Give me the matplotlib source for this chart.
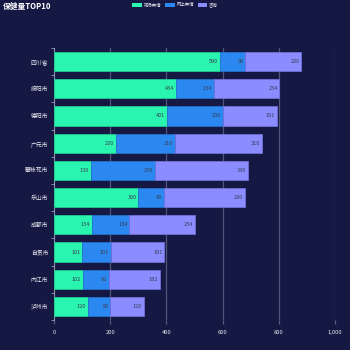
import matplotlib
matplotlib.use("Agg")
import matplotlib.pyplot as plt
from matplotlib.ticker import FuncFormatter, FixedLocator

plt.rcParams['font.family'] = ['Noto Sans CJK SC', 'DejaVu Sans']

categories = ['四川省', '绵阳市', '德阳市', '广元市', '攀枝花市', '乐山市', '成都市', '自贡市', '内江市', '泸州市']
onsite = [590, 434, 401, 220, 130, 300, 134, 101, 102, 120]
online = [90, 134, 200, 210, 230, 90, 134, 101, 92, 80]
consult = [200, 234, 191, 310, 330, 290, 234, 191, 182, 120]
series_names = ['现场申请', '网上申请', '咨询']
title = '保健量TOP10'
xticks = [0, 200, 400, 600, 800, 1000]

bg = '#141843'
colors = ['#2af5b0', '#2b88f0', '#8a8cff']
edges = ['#22c98f', '#2470c8', '#6f70d8']

fig = plt.figure(figsize=(3.5, 3.5), dpi=100, facecolor=bg)
ax = fig.add_axes([54/350, 30/350, 281/350, 272/350], facecolor=bg)

n = len(categories)
ypos = list(range(n))
left = [0]*n
for vals, c, e, name in zip([onsite, online, consult], colors, edges, series_names):
    ax.barh(ypos, vals, left=left, height=0.7, color=c, edgecolor=e, linewidth=0.6, label=name, zorder=3)
    for y, l, v in zip(ypos, left, vals):
        ax.text(l + v - 6, y, str(v), ha='right', va='center', fontsize=4, color='#3a3f55', zorder=4)
    left = [a + b for a, b in zip(left, vals)]

ax.set_xlim(0, 1000)
ax.set_ylim(n - 0.5, -0.5)
ax.set_yticks(ypos)
ax.set_yticklabels(categories, fontsize=4.2, color='#e8e8f0')
ax.yaxis.set_minor_locator(FixedLocator([i - 0.5 for i in range(n + 1)]))
ax.tick_params(axis='y', which='major', length=0, pad=4)
ax.tick_params(axis='y', which='minor', length=2.5, color='#9aa0b8', width=0.6)
ax.set_xticks(xticks)
ax.xaxis.set_major_formatter(FuncFormatter(lambda v, p: f'{int(v):,}'))
ax.tick_params(axis='x', length=3, color='#5a5f80', width=0.9, labelsize=4.2, labelcolor='#e8e8f0', pad=4)
ax.grid(axis='x', color='#50557a', linewidth=0.9, zorder=0)
for s in ['top', 'right', 'bottom']:
    ax.spines[s].set_visible(False)
ax.spines['left'].set_color('#9aa0b8')
ax.spines['left'].set_linewidth(0.6)

fig.text(3/350, 1 - 7/350, title, fontsize=5.6, fontweight='bold', color='#ffffff', va='center', ha='left')

leg = fig.legend(loc='center', bbox_to_anchor=(175/350, 1 - 5/350), ncol=3, frameon=False,
                 fontsize=3.2, labelcolor='#e8e8f0', handlelength=2.2, handleheight=1.3,
                 handletextpad=0.3, columnspacing=0.9)
for h in leg.legend_handles:
    h.set_edgecolor('none')

fig.savefig('out.png', dpi=100, facecolor=bg)
